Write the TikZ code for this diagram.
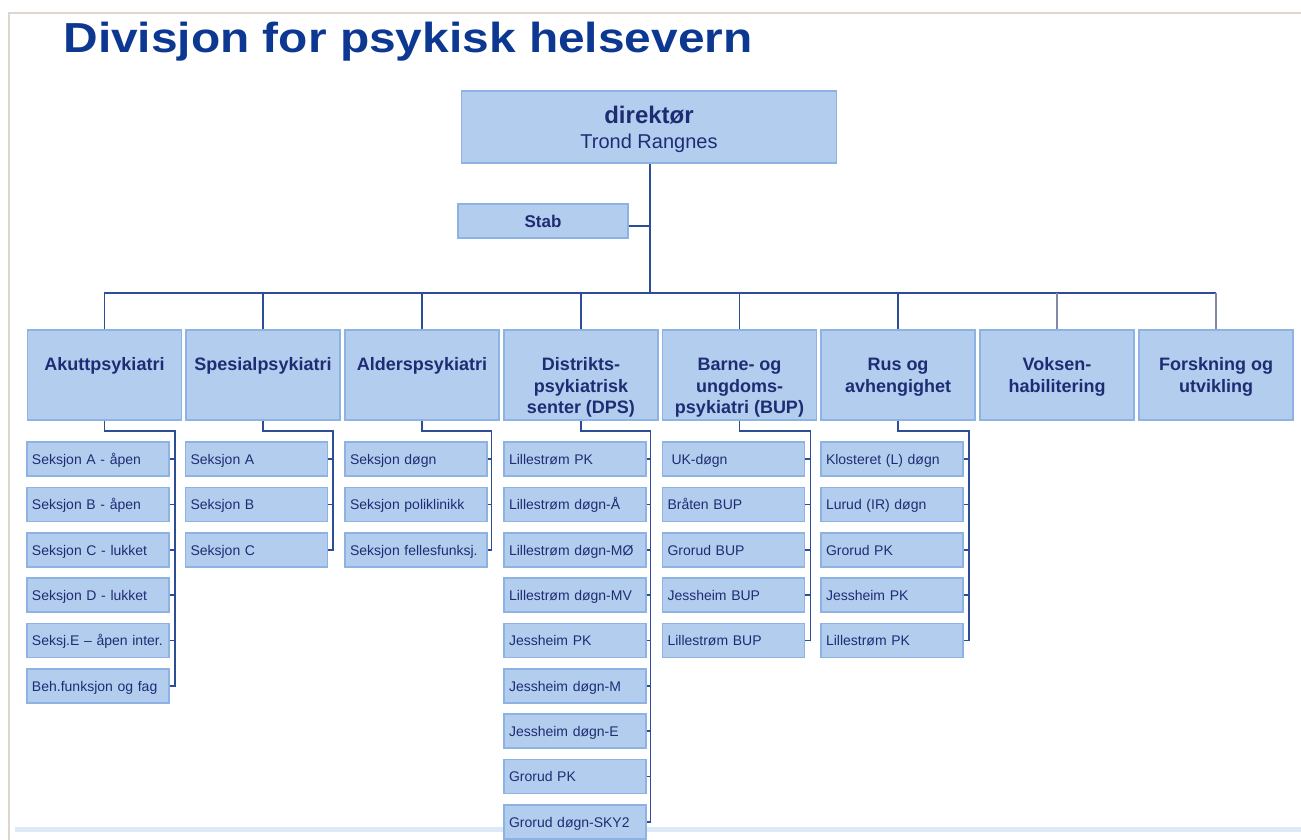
\documentclass[tikz,border=0pt]{standalone}
\usepackage{fontspec}
\setmainfont{Liberation Sans}

\definecolor{boxfill}{RGB}{179,205,238}
\definecolor{boxline}{RGB}{142,178,226}
\definecolor{linkblue}{RGB}{44,78,150}
\definecolor{linkgray}{RGB}{128,138,168}
\definecolor{titleblue}{RGB}{12,56,146}
\definecolor{textblue}{RGB}{30,45,115}
\definecolor{framegray}{RGB}{220,214,207}
\definecolor{bandblue}{RGB}{221,233,247}

% unit names hang from their first line
\newcommand{\unitname}[1]{\begin{tabular}[t]{@{}c@{}}#1\end{tabular}}

\tikzset{
  headbox/.style={draw=boxline, fill=boxfill, line width=0.7pt, minimum width=187.5pt, minimum height=36pt, align=center, text=textblue, font=\fontsize{10}{12.5}\selectfont},
  stabbox/.style={draw=boxline, fill=boxfill, line width=0.7pt, minimum width=85pt, minimum height=17pt, text=textblue, font=\bfseries\fontsize{8.5}{10}\selectfont},
  divbox/.style={draw=boxline, fill=boxfill, line width=0.7pt, minimum width=77pt, minimum height=45pt, inner ysep=0pt, text height=20.35pt, text depth=24.65pt, text=textblue, font=\bfseries\fontsize{9}{10.7}\selectfont},
  subbox/.style={draw=boxline, fill=boxfill, line width=0.7pt, minimum width=71pt, minimum height=17pt, text width=66pt, inner xsep=2.5pt, inner ysep=0pt, text height=6pt, text depth=1pt, align=left, text=textblue, font=\fontsize{7}{8}\selectfont},
  conn/.style={draw=linkblue, line width=0.9pt},
  conngray/.style={draw=linkgray, line width=0.9pt},
}

\begin{document}
\begin{tikzpicture}[x=0.5pt,y=-0.5pt]
    \useasboundingbox (0,0) rectangle (1301,840);
    % page frame and footer band
    \draw [framegray, line width=1pt] (9,840) -- (9,13) -- (1301,13);
    \fill [bandblue] (15,827) rectangle (1301,832);
    \node [anchor=base west, inner sep=0pt, xscale=1.14, text=titleblue, font=\bfseries\fontsize{21}{24}\selectfont] (title) at (63,52.5) {Divisjon for psykisk helsevern};

    \node [headbox, text depth=0pt] (dir) at (649,127) {{\bfseries\fontsize{12}{14}\selectfont direktør}\\Trond Rangnes};
    \node [stabbox] (stab) at (543,221) {Stab};

    \node [divbox] (akutt) at (104.5,375) {\unitname{Akuttpsykiatri}};
    \node [divbox] (spes) at (263,375) {\unitname{Spesialpsykiatri}};
    \node [divbox] (alder) at (422,375) {\unitname{Alderspsykiatri}};
    \node [divbox] (dps) at (581,375) {\unitname{Distrikts-\\psykiatrisk\\senter (DPS)}};
    \node [divbox] (bup) at (739.5,375) {\unitname{Barne- og\\ungdoms-\\psykiatri (BUP)}};
    \node [divbox] (rus) at (898,375) {\unitname{Rus og\\avhengighet}};
    \node [divbox] (voksen) at (1057,375) {\unitname{Voksen-\\habilitering}};
    \node [divbox] (forsk) at (1216,375) {\unitname{Forskning og\\utvikling}};

    % Akuttpsykiatri
    \node [subbox] (a1) at (98,459) {Seksjon A - åpen};
    \node [subbox] (a2) at (98,504.5) {Seksjon B - åpen};
    \node [subbox] (a3) at (98,550) {Seksjon C - lukket};
    \node [subbox] (a4) at (98,595) {Seksjon D - lukket};
    \node [subbox] (a5) at (98,640.5) {Seksj.E – åpen inter.};
    \node [subbox] (a6) at (98,686) {Beh.funksjon og fag};
    % Spesialpsykiatri
    \node [subbox] (s1) at (256.5,459) {Seksjon A};
    \node [subbox] (s2) at (256.5,504.5) {Seksjon B};
    \node [subbox] (s3) at (256.5,550) {Seksjon C};
    % Alderspsykiatri
    \node [subbox] (g1) at (416,459) {Seksjon døgn};
    \node [subbox] (g2) at (416,504.5) {Seksjon poliklinikk};
    \node [subbox] (g3) at (416,550) {Seksjon fellesfunksj.};
    % DPS
    \node [subbox] (d1) at (575,459) {Lillestrøm PK};
    \node [subbox] (d2) at (575,504.5) {Lillestrøm døgn-Å};
    \node [subbox] (d3) at (575,550) {Lillestrøm døgn-MØ};
    \node [subbox] (d4) at (575,595) {Lillestrøm døgn-MV};
    \node [subbox] (d5) at (575,640.5) {Jessheim PK};
    \node [subbox] (d6) at (575,686) {Jessheim døgn-M};
    \node [subbox] (d7) at (575,731) {Jessheim døgn-E};
    \node [subbox] (d8) at (575,776.5) {Grorud PK};
    \node [subbox] (d9) at (575,822) {Grorud døgn-SKY2};
    % BUP
    \node [subbox] (b1) at (733.5,459) {\hspace{2pt}UK-døgn};
    \node [subbox] (b2) at (733.5,504.5) {Bråten BUP};
    \node [subbox] (b3) at (733.5,550) {Grorud BUP};
    \node [subbox] (b4) at (733.5,595) {Jessheim BUP};
    \node [subbox] (b5) at (733.5,640.5) {Lillestrøm BUP};
    % Rus
    \node [subbox] (r1) at (892,459) {Klosteret (L) døgn};
    \node [subbox] (r2) at (892,504.5) {Lurud (IR) døgn};
    \node [subbox] (r3) at (892,550) {Grorud PK};
    \node [subbox] (r4) at (892,595) {Jessheim PK};
    \node [subbox] (r5) at (892,640.5) {Lillestrøm PK};

    % top level lines
    \coordinate (hub) at (650,293);
    \draw [conn] (dir.south -| hub) -- (hub);
    \draw [conn] ([yshift=-2.5pt]stab.east) -- ([yshift=-2.5pt]stab.east -| hub);
    \draw [conn] (akutt.north) |- (hub) -| (rus.north);
    \draw [conn] (spes.north) -- (spes.north |- hub);
    \draw [conn] (alder.north) -- (alder.north |- hub);
    \draw [conn] (dps.north) -- (dps.north |- hub);
    \draw [conn] (bup.north) -- (bup.north |- hub);
    \draw [conn] (rus.north |- hub) -- (forsk.north |- hub);
    \draw [conngray] (voksen.north) -- (voksen.north |- hub);
    \draw [conngray] (forsk.north) -- (forsk.north |- hub);

    % section lines
    \coordinate (akbus) at (175,431);
    \coordinate (spbus) at (333,431);
    \coordinate (albus) at (491.5,431);
    \coordinate (dpbus) at (650.5,431);
    \coordinate (bubus) at (810.5,431);
    \coordinate (rubus) at (969,431);
    \draw [conn] (akutt.south) |- (akbus) |- (a6.east);
    \draw [conn] (a1.east) -- (a1.east -| akbus) (a2.east) -- (a2.east -| akbus) (a3.east) -- (a3.east -| akbus) (a4.east) -- (a4.east -| akbus) (a5.east) -- (a5.east -| akbus);
    \draw [conn] (spes.south) |- (spbus) |- (s3.east);
    \draw [conn] (s1.east) -- (s1.east -| spbus) (s2.east) -- (s2.east -| spbus);
    \draw [conn] (alder.south) |- (albus) |- (g3.east);
    \draw [conn] (g1.east) -- (g1.east -| albus) (g2.east) -- (g2.east -| albus);
    \draw [conn] (dps.south) |- (dpbus) |- (d9.east);
    \draw [conn] (d1.east) -- (d1.east -| dpbus) (d2.east) -- (d2.east -| dpbus) (d3.east) -- (d3.east -| dpbus) (d4.east) -- (d4.east -| dpbus) (d5.east) -- (d5.east -| dpbus) (d6.east) -- (d6.east -| dpbus) (d7.east) -- (d7.east -| dpbus) (d8.east) -- (d8.east -| dpbus);
    \draw [conn] (bup.south) |- (bubus) |- (b5.east);
    \draw [conn] (b1.east) -- (b1.east -| bubus) (b2.east) -- (b2.east -| bubus) (b3.east) -- (b3.east -| bubus) (b4.east) -- (b4.east -| bubus);
    \draw [conn] (rus.south) |- (rubus) |- (r5.east);
    \draw [conn] (r1.east) -- (r1.east -| rubus) (r2.east) -- (r2.east -| rubus) (r3.east) -- (r3.east -| rubus) (r4.east) -- (r4.east -| rubus);
\end{tikzpicture}
\end{document}
